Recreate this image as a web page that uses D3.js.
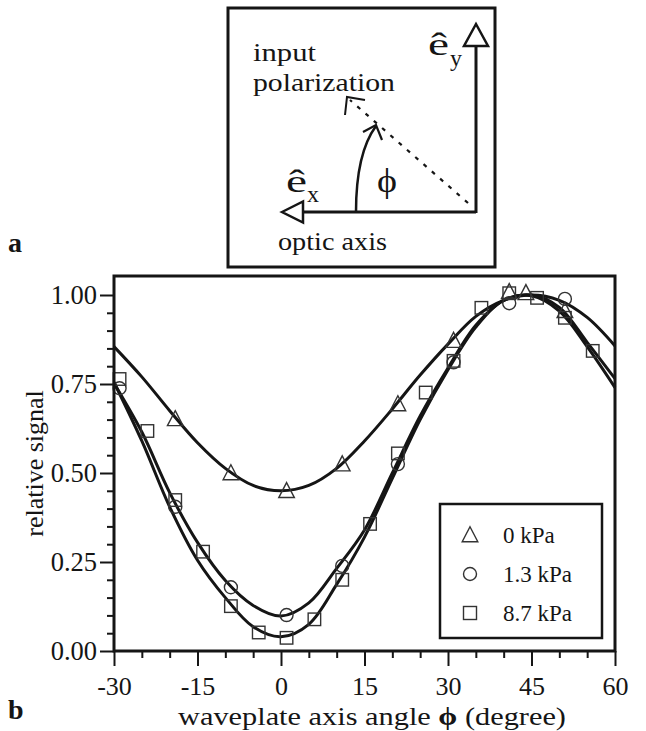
<!DOCTYPE html>
<html><head><meta charset="utf-8">
<script src="https://cdn.jsdelivr.net/npm/d3@7"></script>
<style>
html,body{margin:0;padding:0;background:#fff;}
svg{display:block;}
</style></head>
<body>
<svg id="c" width="646" height="731"></svg>
<script>
// ---- data ----
const fitAngles = [-30,-25,-20,-15,-10,-5,0,5,10,15,20,25,30,35,40,45,50,55,60];
const fit0kPa   = [0.855,0.770,0.675,0.585,0.513,0.465,0.450,0.465,0.513,0.590,0.680,0.775,0.862,0.940,0.985,1.000,0.985,0.937,0.857];
const fit13kPa  = [0.752,0.615,0.445,0.305,0.198,0.128,0.098,0.135,0.232,0.340,0.500,0.660,0.795,0.915,0.985,1.000,0.965,0.867,0.765];
const fit87kPa  = [0.755,0.590,0.405,0.255,0.150,0.068,0.040,0.075,0.187,0.320,0.485,0.650,0.790,0.910,0.985,0.998,0.955,0.855,0.740];

const triAngles = [-19,-9,1,11,21,31,41,44,51];
const triValues = [0.649,0.497,0.447,0.522,0.691,0.869,1.006,1.003,0.953];
const cirAngles = [-29,-19,-9,1,11,21,31,41,51];
const cirValues = [0.738,0.405,0.179,0.101,0.239,0.525,0.811,0.977,0.989];
const sqAngles  = [-29,-24,-19,-14,-9,-4,1,6,11,16,21,26,31,36,41,46,51,56];
const sqValues  = [0.764,0.618,0.424,0.279,0.126,0.052,0.037,0.089,0.200,0.357,0.555,0.726,0.815,0.964,1.005,0.992,0.936,0.843];

const xTicks = [-30,-15,0,15,30,45,60];
const xTickLabels = ["-30","-15","0","15","30","45","60"];
const xMinor = [-25,-20,-10,-5,5,10,20,25,35,40,50,55];
const yTicks = [0,0.25,0.5,0.75,1.0];
const yTickLabels = ["0.00","0.25","0.50","0.75","1.00"];
const yMinor = [0.05,0.1,0.15,0.2,0.3,0.35,0.4,0.45,0.55,0.6,0.65,0.7,0.8,0.85,0.9,0.95,1.05];
const legendLabels = ["0 kPa","1.3 kPa","8.7 kPa"];

// ---- layout ----
const FONT = '"Liberation Serif"';
const svg = d3.select("#c");
const L=114, R=615, T=276, B=651;
const x = d3.scaleLinear().domain([-30,60]).range([L,R]);
const y = d3.scaleLinear().domain([0,1]).range([B,295]);
const ink = "#151515";
function txt(g,xx,yy,size,s){
  return g.append("text").attr("x",xx).attr("y",yy)
    .style("font-family",FONT).style("font-size",size+"px").style("fill",ink).text(s);
}

// axes
const gx = svg.append("g").attr("transform",`translate(0,${B})`)
  .call(d3.axisBottom(x).tickValues(xTicks).tickSize(15).tickPadding(11)
        .tickFormat((d,i)=>xTickLabels[i]));
const gxm = svg.append("g").attr("transform",`translate(0,${B})`)
  .call(d3.axisBottom(x).tickValues(xMinor).tickSize(7).tickFormat(""));
const gy = svg.append("g").attr("transform",`translate(${L},0)`)
  .call(d3.axisLeft(y).tickValues(yTicks).tickSize(14).tickPadding(3)
        .tickFormat((d,i)=>yTickLabels[i]));
const gym = svg.append("g").attr("transform",`translate(${L},0)`)
  .call(d3.axisLeft(y).tickValues(yMinor.filter(v=>y(v)>T+2)).tickSize(7).tickFormat(""));
[gx,gxm,gy,gym].forEach(g=>{
  g.select(".domain").remove();
  g.selectAll(".tick line").attr("stroke",ink).attr("stroke-width",2);
  g.selectAll(".tick text").style("font-size","26.5px").style("fill",ink)
   .style("font-family",FONT);
});
gx.selectAll(".tick text").style("font-size","26px");

// curves
const line = d3.line().x(d=>x(d[0])).y(d=>y(d[1])).curve(d3.curveCatmullRom.alpha(0.5));
[fit0kPa,fit13kPa,fit87kPa].forEach(vals=>{
  svg.append("path").datum(fitAngles.map((a,i)=>[a,vals[i]]))
    .attr("d",line).attr("fill","none").attr("stroke",ink).attr("stroke-width",3);
});

// markers
const mk = "#333";
function tri(g,cx,cy,s){ g.append("path").attr("d",`M${cx},${cy-s*0.62}L${cx+s*0.52},${cy+s*0.38}L${cx-s*0.52},${cy+s*0.38}Z`)
  .attr("fill","none").attr("stroke",mk).attr("stroke-width",1.4); }
function cir(g,cx,cy,s){ g.append("circle").attr("cx",cx).attr("cy",cy).attr("r",s/2)
  .attr("fill","none").attr("stroke",mk).attr("stroke-width",1.4); }
function sq(g,cx,cy,s){ g.append("rect").attr("x",cx-s/2).attr("y",cy-s/2).attr("width",s).attr("height",s)
  .attr("fill","none").attr("stroke",mk).attr("stroke-width",1.4); }
const gm = svg.append("g");
triAngles.forEach((a,i)=>tri(gm,x(a),y(triValues[i]),15));
cirAngles.forEach((a,i)=>cir(gm,x(a),y(cirValues[i]),13));
sqAngles.forEach((a,i)=>sq(gm,x(a),y(sqValues[i]),12.5));

// frame
svg.append("rect").attr("x",L).attr("y",T).attr("width",R-L).attr("height",B-T)
  .attr("fill","none").attr("stroke",ink).attr("stroke-width",3);

// legend
svg.append("rect").attr("x",440).attr("y",504).attr("width",162).attr("height",134)
  .attr("fill","#fff").attr("stroke",ink).attr("stroke-width",2.5);
const legY=[535,574,613];
tri(svg,470,legY[0]+1,15); cir(svg,470,legY[1],13); sq(svg,470,legY[2],13);
legendLabels.forEach((t,i)=>txt(svg,503,legY[i]+7.5,23,t));

// axis titles
txt(svg,0,0,26,"relative signal").attr("x",null).attr("y",null)
  .attr("transform",`translate(43,${(T+B)/2}) rotate(-90)`).attr("text-anchor","middle");
const xt = txt(svg,372,725,26,"").attr("text-anchor","middle")
  .attr("textLength",388).attr("lengthAdjust","spacingAndGlyphs");
xt.append("tspan").text("waveplate axis angle ");
xt.append("tspan").style("font-weight","bold").text("ϕ");
xt.append("tspan").text(" (degree)");

// panel letters
txt(svg,8,252,28,"a").style("font-weight","bold");
txt(svg,8,719,28,"b").style("font-weight","bold");

// ---- inset diagram ----
const ins = svg.append("g");
ins.append("rect").attr("x",228).attr("y",8).attr("width",267).attr("height",259)
  .attr("fill","none").attr("stroke",ink).attr("stroke-width",3);
ins.append("path").attr("d","M476,212H302").attr("stroke",ink).attr("stroke-width",3).attr("fill","none");
ins.append("path").attr("d","M476,213V47").attr("stroke",ink).attr("stroke-width",3).attr("fill","none");
ins.append("path").attr("d","M282,212L303,201.5L303,222.5Z").attr("fill","#fff").attr("stroke",ink).attr("stroke-width",2.5);
ins.append("path").attr("d","M476,24L464,46L488,46Z").attr("fill","#fff").attr("stroke",ink).attr("stroke-width",2.5);
ins.append("path").attr("d","M468,203L350,100").attr("stroke",ink).attr("stroke-width",2.2)
  .attr("stroke-dasharray","4,7").attr("fill","none");
ins.append("path").attr("d","M345,115L347,97L365,100").attr("stroke",ink).attr("stroke-width",2).attr("fill","none");
ins.append("path").attr("d","M356,212C356,175 362,145 376,126").attr("stroke",ink).attr("stroke-width",2.5).attr("fill","none");
ins.append("path").attr("d","M363,132L376,125L382,140").attr("stroke",ink).attr("stroke-width",2.2).attr("fill","none");
txt(ins,253,61,25,"input").attr("textLength",63).attr("lengthAdjust","spacingAndGlyphs");
txt(ins,253,91,25,"polarization").attr("textLength",142).attr("lengthAdjust","spacingAndGlyphs");
txt(ins,278,250,25,"optic axis").attr("textLength",109).attr("lengthAdjust","spacingAndGlyphs");
txt(ins,428,55,32,"ê").attr("textLength",21).attr("lengthAdjust","spacingAndGlyphs");
txt(ins,450,66,24,"y");
txt(ins,286,192,32,"ê").attr("textLength",21).attr("lengthAdjust","spacingAndGlyphs");
txt(ins,307,202,24,"x");
txt(ins,377,192,34,"ϕ").attr("textLength",20).attr("lengthAdjust","spacingAndGlyphs");
</script>
</body></html>
